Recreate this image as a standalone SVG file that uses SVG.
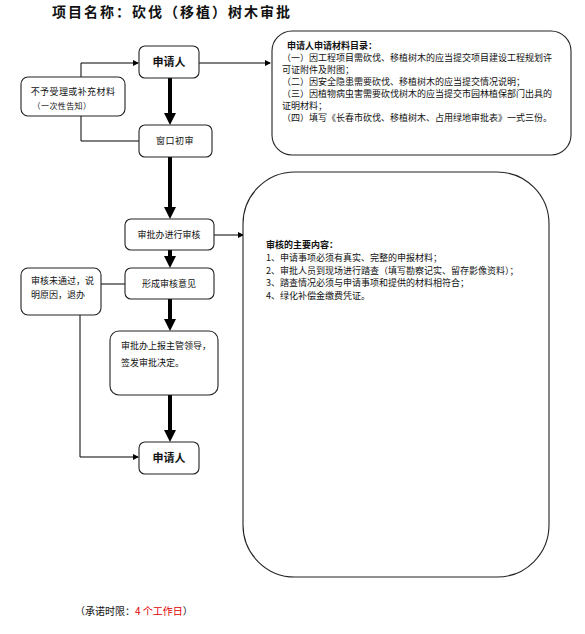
<svg xmlns="http://www.w3.org/2000/svg" width="585" height="634" viewBox="0 0 585 634">
<style>
text{font-family:"Noto Sans CJK SC","Noto Sans",sans-serif;fill:#111;font-size:9px}
.box{fill:#fff;stroke:#222;stroke-width:1.1}
.thick{stroke:#000;stroke-width:4;fill:none}
.thin{stroke:#000;stroke-width:1;fill:none}
.b{font-weight:bold}
.c{text-anchor:middle}
</style>
<defs>
<marker id="big" viewBox="0 0 12 12" refX="4" refY="6" markerWidth="12" markerHeight="12" markerUnits="userSpaceOnUse" orient="auto"><path d="M0,0 L12,6 L0,12 z" fill="#000"/></marker>
<marker id="sm" viewBox="0 0 6 6" refX="5" refY="3" markerWidth="6" markerHeight="6" markerUnits="userSpaceOnUse" orient="auto"><path d="M0,0 L6,3 L0,6 z" fill="#000"/></marker>
</defs>
<rect width="585" height="634" fill="#fff"/>
<text x="52" y="17" class="b" style="font-size:14px;letter-spacing:2px">项目名称：砍伐（移植）树木审批</text>

<g id="connectors">
<line class="thick" x1="170" y1="78" x2="170" y2="117" marker-end="url(#big)"/>
<line class="thick" x1="170" y1="157" x2="170" y2="211" marker-end="url(#big)"/>
<line class="thick" x1="170" y1="250" x2="170" y2="260" marker-end="url(#big)"/>
<line class="thick" x1="170" y1="299" x2="170" y2="323" marker-end="url(#big)"/>
<line class="thick" x1="170" y1="395" x2="170" y2="434" marker-end="url(#big)"/>
<line class="thin" x1="199" y1="63" x2="270" y2="63" marker-end="url(#sm)"/>
<polyline class="thin" points="81,77 81,63 138,63" marker-end="url(#sm)"/>
<polyline class="thin" points="81,116 81,141 139,141"/>
<line class="thin" x1="214" y1="235" x2="243" y2="235" marker-end="url(#sm)"/>
<line class="thin" x1="101" y1="284" x2="125" y2="284"/>
<polyline class="thin" points="80,315 80,457 138,457" marker-end="url(#sm)"/>
</g>

<g id="applicant">
<rect class="box" x="139" y="46" width="60" height="32" rx="6"/>
<text x="169" y="66" class="b c" style="font-size:11px">申请人</text>
</g>

<g id="reject-supplement">
<rect class="box" x="21" y="77" width="104" height="39" rx="7"/>
<text x="73" y="95" class="c" style="letter-spacing:0.4px">不予受理或补充材料</text>
<text x="62" y="109" class="c" style="font-size:8px;letter-spacing:0.4px">（一次性告知）</text>
</g>

<g id="materials">
<rect class="box" x="272" y="31" width="299" height="124" rx="20"/>
<text x="287" y="49" class="b">申请人申请材料目录：</text>
<text x="282" y="61">（一）因工程项目需砍伐、移植树木的应当提交项目建设工程规划许</text>
<text x="282" y="73">可证附件及附图；</text>
<text x="282" y="85">（二）因安全隐患需要砍伐、移植树木的应当提交情况说明；</text>
<text x="282" y="97">（三）因植物病虫害需要砍伐树木的应当提交市园林植保部门出具的</text>
<text x="282" y="109">证明材料；</text>
<text x="282" y="121">（四）填写《长春市砍伐、移植树木、占用绿地审批表》一式三份。</text>
</g>

<g id="window-review">
<rect class="box" x="139" y="125" width="73" height="32" rx="6"/>
<text x="175" y="144" class="c" style="letter-spacing:0.5px">窗口初审</text>
</g>

<g id="office-review">
<rect class="box" x="125" y="219" width="89" height="31" rx="6"/>
<text x="169" y="238" class="c">审批办进行审核</text>
</g>

<g id="review-content">
<rect class="box" x="243" y="172" width="306" height="405" rx="52"/>
<text x="266" y="248" class="b">审核的主要内容：</text>
<text x="266" y="261">1、申请事项必须有真实、完整的申报材料；</text>
<text x="266" y="274">2、审批人员到现场进行踏查（填写勘察记实、留存影像资料）；</text>
<text x="266" y="286">3、踏查情况必须与申请事项和提供的材料相符合；</text>
<text x="266" y="299">4、绿化补偿金缴费凭证。</text>
</g>

<g id="opinion">
<rect class="box" x="125" y="268" width="89" height="31" rx="6"/>
<text x="169" y="287" class="c">形成审核意见</text>
</g>

<g id="not-passed">
<rect class="box" x="21" y="268" width="80" height="47" rx="7"/>
<text x="31" y="284">审核未通过，说</text>
<text x="31" y="298">明原因，退办</text>
</g>

<g id="report">
<rect class="box" x="110" y="331" width="108" height="64" rx="9"/>
<text x="121" y="349">审批办上报主管领导，</text>
<text x="121" y="366">签发审批决定。</text>
</g>

<g id="applicant-final">
<rect class="box" x="139" y="442" width="60" height="32" rx="6"/>
<text x="169" y="462" class="b c" style="font-size:11px">申请人</text>
</g>

<text x="75" y="615" style="font-size:10px">（承诺时限：<tspan style="fill:#e00000">4 个工作日</tspan>）</text>
</svg>
